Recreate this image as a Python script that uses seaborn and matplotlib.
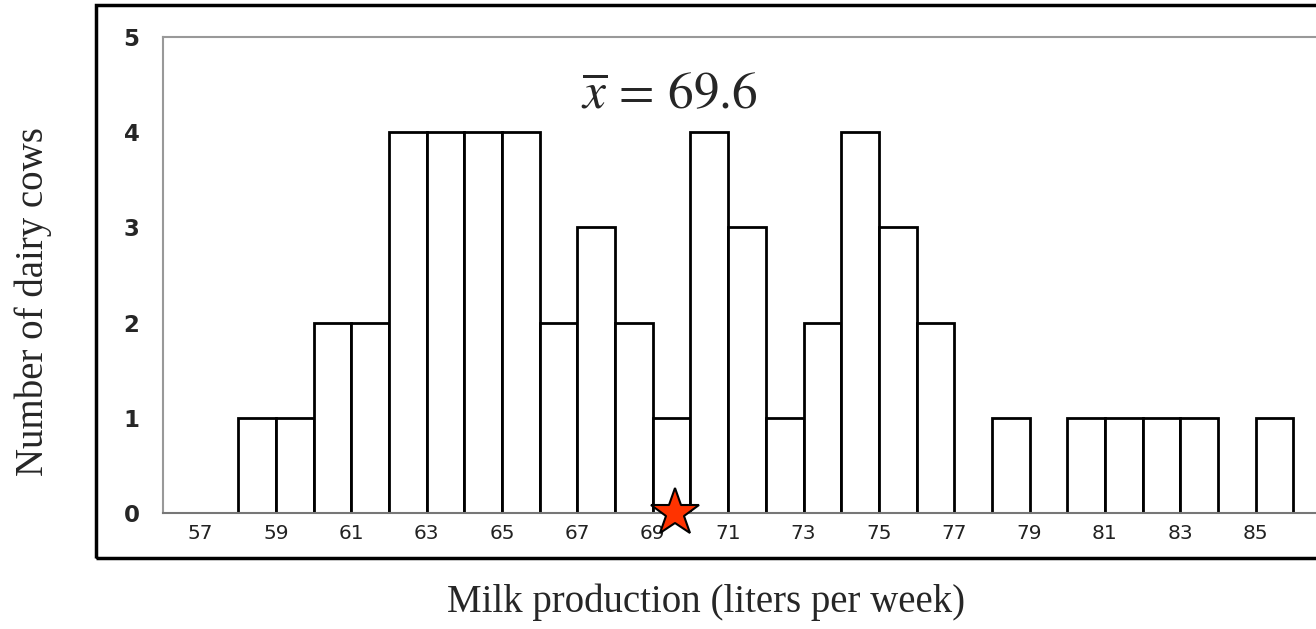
import numpy as np
import pandas as pd
import matplotlib
matplotlib.use('Agg')
import matplotlib.pyplot as plt
import seaborn as sns
from matplotlib.patches import Rectangle

# bin left edges (1 liter wide) and number of cows in each bin
bin_left = [58, 59, 60, 61, 62, 63, 64, 65, 66, 67, 68, 69, 70, 71, 72, 73, 74, 75, 76,
            78, 80, 81, 82, 83, 85]
counts = [1, 1, 2, 2, 4, 4, 4, 4, 2, 3, 2, 1, 4, 3, 1, 2, 4, 3, 2,
          1, 1, 1, 1, 1, 1]
mean_value = 69.6
tick_labels = [57, 59, 61, 63, 65, 67, 69, 71, 73, 75, 77, 79, 81, 83, 85]

# one row per cow
df = pd.DataFrame({'milk': np.repeat(np.array(bin_left) + 0.5, counts)})

sns.set_style('white')
plt.rcParams['mathtext.fontset'] = 'stix'

fig = plt.figure(figsize=(13.16, 6.29), dpi=100)
ax = fig.add_axes([163 / 1316, 116 / 629, 1168 / 1316, 476 / 629])

sns.histplot(data=df, x='milk', bins=list(range(56, 88)),
             facecolor='white', edgecolor='black', linewidth=2, alpha=1, ax=ax)

# mean marker
ax.plot([mean_value], [0], marker='*', markersize=36, color='#ff3300',
        markeredgecolor='black', markeredgewidth=1.5, clip_on=False, zorder=5)
ax.text(mean_value - 0.15, 4.4, r'$\overline{x}\,=\,69.6$', fontsize=37,
        ha='center', va='center')

ax.set_xlim(56, 87)
ax.set_ylim(0, 5)
ax.set_xticks(np.arange(56, 88, 1), minor=True)
ax.set_xticks(tick_labels)
ax.set_xticklabels([str(t) for t in tick_labels], fontsize=14.5, color='#222222')
ax.set_yticks(range(6))
ax.set_yticklabels([str(i) for i in range(6)], fontsize=16.5, fontweight='bold')
ax.tick_params(axis='x', which='both', direction='out', length=5, width=0.8,
               color='#bbbbbb', pad=3)
ax.tick_params(axis='y', direction='inout', length=14, width=0.8,
               color='#cccccc', pad=10)

for side in ['left', 'top', 'bottom', 'right']:
    ax.spines[side].set_color('#999999')
    ax.spines[side].set_linewidth(1.5)
ax.spines['bottom'].set_color('#777777')
ax.set_xlabel('')
ax.set_ylabel('')

# outer frame
fig.patches.append(Rectangle((96 / 1316, 71 / 629), 1.2, 553 / 629, fill=False,
                             edgecolor='black', linewidth=2.5,
                             transform=fig.transFigure, figure=fig))

fig.text(706 / 1316, 1 - 602 / 629, 'Milk production (liters per week)',
         fontsize=28, family='Liberation Serif', ha='center', va='center')
fig.text(33 / 1316, 1 - 302 / 629, 'Number of dairy cows', fontsize=28,
         family='Liberation Serif', ha='center', va='center', rotation=90)

fig.savefig('out.png', dpi=100)
